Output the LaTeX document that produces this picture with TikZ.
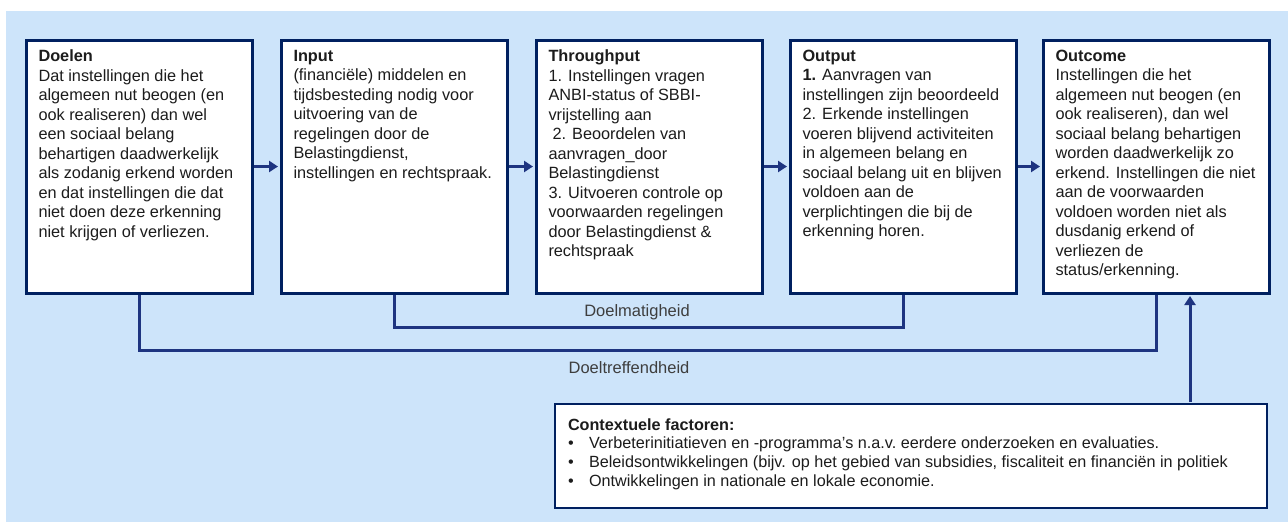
\documentclass[tikz,border=0pt]{standalone}
\usepackage{fontspec}
\setmainfont{Liberation Sans}
\usetikzlibrary{arrows.meta}
\definecolor{achtergrond}{RGB}{205,228,250}
\definecolor{donkerblauw}{RGB}{0,32,96}
\definecolor{lijnblauw}{RGB}{30,52,128}
\definecolor{tekstgrijs}{RGB}{28,28,28}
\newcommand{\blok}[2]{\parbox[t][233pt][t]{201pt}{\textbf{#1}\\#2}}
\newcommand{\punt}{\makebox[21pt][l]{\textbullet}}

\begin{document}
\begin{tikzpicture}[x=1pt,y=-1pt,
    font=\fontsize{16.3}{19.5}\selectfont,
    blok/.style={draw=donkerblauw, fill=white, line width=3pt, anchor=north west,
      inner xsep=12.5pt, inner ysep=10pt, text=tekstgrijs},
    pijl/.style={draw=lijnblauw, line width=3pt, shorten >=1.5pt,
      -{Triangle[length=9pt,width=11pt]}},
    lijn/.style={draw=lijnblauw, line width=3pt},
    naam/.style={text=tekstgrijs!85, font=\fontsize{16.5}{18}\selectfont}]
  \useasboundingbox (0,0) rectangle (1288,523);
  \fill[achtergrond] (6,11) rectangle (1288,522);

  \node[blok] (doel) at (24.5,38.5) {\blok{Doelen}{Dat instellingen die het\\
    algemeen nut beogen (en\\ ook realiseren) dan wel\\ een sociaal belang\\
    behartigen daadwerkelijk\\ als zodanig erkend worden\\
    en dat instellingen die dat\\ niet doen deze erkenning\\
    niet krijgen of verliezen.}};
  \node[blok] (input) at (279.5,38.5) {\blok{Input}{(financiële) middelen en\\
    tijdsbesteding nodig voor\\ uitvoering van de\\ regelingen door de\\
    Belastingdienst,\\ instellingen en rechtspraak.}};
  \node[blok] (through) at (534.5,38.5) {\blok{Throughput}{1. Instellingen vragen\\
    ANBI-status of SBBI-\\ vrijstelling aan\\ \hspace*{4pt}2. Beoordelen van\\
    aanvragen\_door\\ Belastingdienst\\ 3. Uitvoeren controle op\\
    voorwaarden regelingen\\ door Belastingdienst \&\\ rechtspraak}};
  \node[blok] (output) at (788.5,38.5) {\blok{Output}{\textbf{1.} Aanvragen van\\
    instellingen zijn beoordeeld\\ 2. Erkende instellingen\\
    voeren blijvend activiteiten\\ in algemeen belang en\\
    sociaal belang uit en blijven\\ voldoen aan de\\
    verplichtingen die bij de\\ erkenning horen.}};
  \node[blok] (outcome) at (1041.5,38.5) {\blok{Outcome}{Instellingen die het\\
    algemeen nut beogen (en\\ ook realiseren), dan wel\\
    sociaal belang behartigen\\ worden daadwerkelijk zo\\
    erkend. Instellingen die niet\\ aan de voorwaarden\\
    voldoen worden niet als\\ dusdanig erkend of\\ verliezen de\\
    status/erkenning.}};

  \node[draw=donkerblauw, fill=white, line width=2pt, anchor=north west,
    inner xsep=13pt, inner ysep=14.5pt, text=tekstgrijs,
    font=\fontsize{16.2}{18.7}\selectfont] (ctx) at (554,403)
    {\parbox[t][75pt][t]{686pt}{\textbf{Contextuele factoren:}\\
    \punt Verbeterinitiatieven en -programma's n.a.v.\ eerdere onderzoeken en evaluaties.\\
    \punt Beleidsontwikkelingen (bijv. op het gebied van subsidies, fiscaliteit en financiën in politiek\\
    \punt Ontwikkelingen in nationale en lokale economie.}};
  \coordinate (ctxpunt) at (1190,402);

  \draw[pijl] (doel) -- (input);
  \draw[pijl] (input) -- (through);
  \draw[pijl] (through) -- (output);
  \draw[pijl] (output) -- (outcome);

  \draw[lijn] (input.south) -- ++(0,33) -| (output.south);
  \draw[lijn] (doel.south) -- ++(0,56) -| (outcome.south);
  \draw[pijl] (ctxpunt) -- (ctxpunt |- outcome.south);

  \node[naam] (doelmatig) at (637,312) {Doelmatigheid};
  \node[naam] (doeltreffend) at (629,368) {Doeltreffendheid};
\end{tikzpicture}
\end{document}
